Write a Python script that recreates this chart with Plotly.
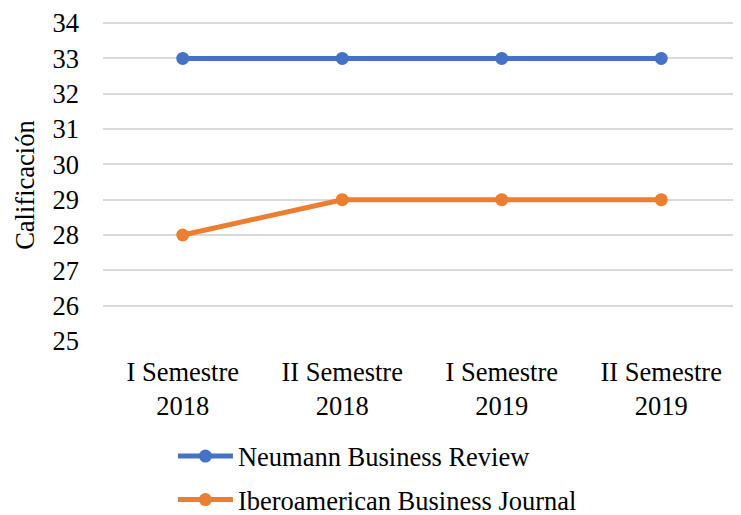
import plotly.graph_objects as go

categories = ["I Semestre<br>2018", "II Semestre<br>2018", "I Semestre<br>2019", "II Semestre<br>2019"]
neumann = [33, 33, 33, 33]
ibero = [28, 29, 29, 29]

FONT = "Liberation Serif, Times New Roman, serif"

fig = go.Figure()

fig.add_trace(go.Scatter(
    x=categories, y=neumann, name="Neumann Business Review",
    mode="lines+markers", legendgroup="a",
    line=dict(color="#4472C4", width=5),
    marker=dict(size=13, color="#4472C4"),
))
fig.add_trace(go.Scatter(
    x=categories, y=ibero, name="Iberoamerican Business Journal",
    mode="lines+markers", legendgroup="b",
    line=dict(color="#ED7D31", width=5),
    marker=dict(size=13, color="#ED7D31"),
))

# page body has an 8px margin, so the figure is shrunk/shifted to compensate
fig.update_layout(
    width=733, height=507,
    margin=dict(l=95, r=0, t=14, b=174, autoexpand=False),
    paper_bgcolor="white", plot_bgcolor="white",
    font=dict(family=FONT, size=26.5, color="black"),
    showlegend=True,
    legend=dict(
        orientation="v", xref="container", yref="container",
        x=0.225, xanchor="left", y=0.163, yanchor="top",
        traceorder="grouped", tracegroupgap=6,
        font=dict(size=26.5), itemwidth=55,
    ),
)
fig.update_xaxes(
    range=[-0.5, 3.5], showgrid=False, zeroline=False, showline=False,
    ticks="", tickfont=dict(size=26.5), ticklabelstandoff=12,
)
fig.update_yaxes(
    range=[25, 34.03], tickvals=list(range(25, 35)), showgrid=True,
    gridcolor="#D9D9D9", gridwidth=1.5,
    zeroline=False, showline=False, ticks="", ticklabelstandoff=23,
    ticklabeloverflow="allow", automargin=False,
)

# y axis title
fig.add_annotation(
    text="Calificación", textangle=-90, showarrow=False,
    xref="paper", yref="paper", x=-0.122, y=0.49,
    xanchor="center", yanchor="middle", font=dict(size=26.5),
)

fig.write_html("out.html")
